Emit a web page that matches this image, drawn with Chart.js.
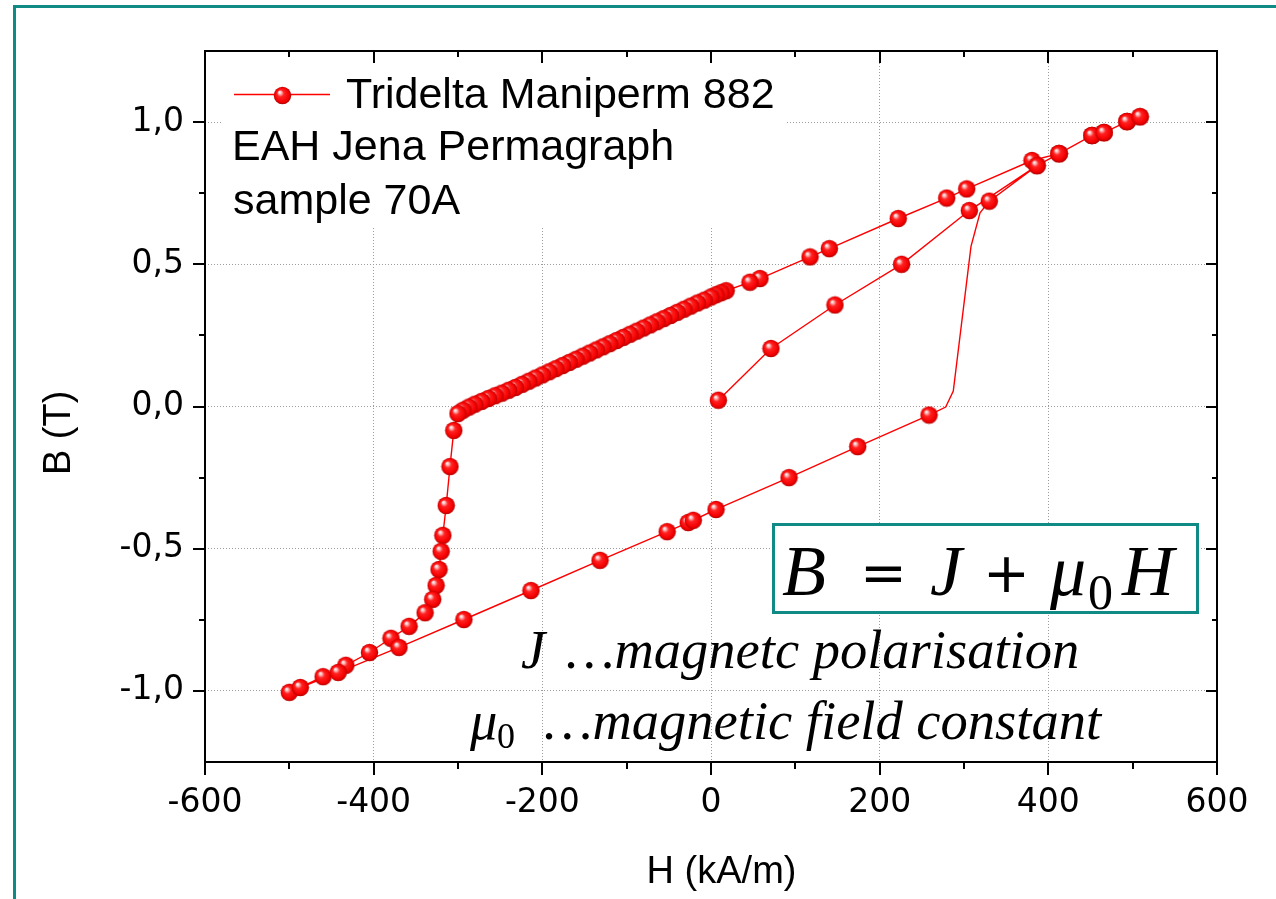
<!DOCTYPE html>
<html>
<head>
<meta charset="utf-8">
<title>Hysteresis loop – Tridelta Maniperm 882</title>
<script src="https://cdn.jsdelivr.net/npm/chart.js@4.4.1/dist/chart.umd.min.js"></script>
<style>
  html, body { margin: 0; padding: 0; background: #ffffff; }
  canvas { display: block; }
</style>
</head>
<body>
<canvas id="loop" width="1276" height="899"></canvas>
<script>
// ---- Measured B(H) loop, sample 70A (H in kA/m, B in T) ----

// initial magnetisation curve, from the demagnetised state up to the maximum field
const virginH = [8.7, 71.1, 147.0, 226.0, 306.3, 386.6, 412.7, 451.8, 466.0, 493.3, 508.7];
const virginB = [0.022, 0.204, 0.357, 0.500, 0.689, 0.847, 0.889, 0.953, 0.963, 1.002, 1.019];

// descending branch, from +Hmax down to -Hmax
const descH = [493.3, 466.0, 451.8, 412.7, 380.6, 303.2, 279.5, 222.0, 140.3, 117.4, 58.1, 46.2,
  18, 12, 6, 0, -8, -16, -24, -32, -40, -48, -56, -64, -72, -80, -88, -96, -104, -112, -120,
  -128, -136, -144, -152, -160, -168, -176, -184, -192, -200, -208, -216, -224, -232, -240,
  -248, -256, -264, -272, -280, -287, -294, -300,
  -305, -309.5, -314, -318, -320, -322.5, -326, -330, -339, -358, -379.5, -405, -433, -460, -500];
const descB = [1.002, 0.963, 0.953, 0.889, 0.865, 0.765, 0.733, 0.661, 0.555, 0.526, 0.450, 0.437,
  0.407, 0.400, 0.393, 0.385, 0.374, 0.364, 0.353, 0.342, 0.331, 0.320, 0.309, 0.298, 0.287, 0.276,
  0.265, 0.254, 0.243, 0.232, 0.221, 0.210, 0.199, 0.188, 0.177, 0.166, 0.155, 0.144, 0.133, 0.122,
  0.111, 0.100, 0.089, 0.078, 0.067, 0.057, 0.047, 0.038, 0.028, 0.018, 0.008, -0.002, -0.013, -0.025,
  -0.084, -0.211, -0.348, -0.453, -0.509, -0.573, -0.629, -0.678, -0.725, -0.773, -0.815, -0.865,
  -0.910, -0.950, -1.005];

// ascending branch, from -Hmax up to the start of the switching step
const ascH = [-487, -442, -370, -293, -213.5, -131.6, -52, -27, -21, 6, 92.5, 174, 258.5];
const ascB = [-0.988, -0.935, -0.847, -0.749, -0.647, -0.541, -0.440, -0.408, -0.400, -0.362, -0.250, -0.141, -0.030];

// switching step of the ascending branch (recorded without symbols)
const switchH = [278.3, 287.3, 308.3, 319.0];
const switchB = [-0.002, 0.054, 0.563, 0.681];

// ascending branch after switching, back up to +Hmax
const returnH = [330.0, 386.6, 412.7, 451.8, 466.0, 493.3, 508.7];
const returnB = [0.722, 0.847, 0.889, 0.953, 0.963, 1.002, 1.019];

// axis ticks
const xTickValues = [-600, -400, -200, 0, 200, 400, 600];
const xTickLabels = ['-600', '-400', '-200', '0', '200', '400', '600'];
const yTickValues = [-1.0, -0.5, 0.0, 0.5, 1.0];
const yTickLabels = ['-1,0', '-0,5', '0,0', '0,5', '1,0'];

const seriesName = 'Tridelta Maniperm 882';
const noteLines = ['EAH Jena Permagraph', 'sample 70A'];

// ---- build the trace in measurement order ----
function pts(hs, bs, sym) {
  return hs.map((h, i) => ({ x: h, y: bs[i], sym: sym }));
}
const trace = [].concat(
  pts(virginH, virginB, true),
  pts(descH, descB, true),
  pts(ascH, ascB, true),
  pts(switchH, switchB, false),
  pts(returnH, returnB, true)
);

// shaded red sphere used as the data symbol
function makeBall(r) {
  const s = Math.round(2 * r) + 2;
  const c = document.createElement('canvas');
  c.width = s; c.height = s;
  const g = c.getContext('2d');
  const cx = s / 2, cy = s / 2;
  const grad = g.createRadialGradient(cx - 0.36 * r, cy - 0.4 * r, 0, cx, cy, r);
  grad.addColorStop(0, '#ffffff');
  grad.addColorStop(0.15, '#ffcaca');
  grad.addColorStop(0.4, '#ff2222');
  grad.addColorStop(0.82, '#f50000');
  grad.addColorStop(1, '#b20000');
  g.fillStyle = grad;
  g.beginPath();
  g.arc(cx, cy, r, 0, Math.PI * 2);
  g.fill();
  return c;
}
const ball = makeBall(8.7);

const TEAL = '#0f8a85';

// frame, minor/major tick marks, legend block and the formula annotation
const decor = {
  id: 'decor',
  beforeDraw(chart) {
    const ctx = chart.ctx;
    ctx.save();
    ctx.fillStyle = '#ffffff';
    ctx.fillRect(0, 0, chart.width, chart.height);
    ctx.strokeStyle = TEAL;
    ctx.lineWidth = 3;
    ctx.strokeRect(14.5, 6.5, chart.width + 20, chart.height + 20);
    ctx.restore();
  },
  beforeDatasetsDraw(chart) {
    const ctx = chart.ctx;
    const a = chart.chartArea;
    ctx.save();
    ctx.fillStyle = '#ffffff';
    ctx.fillRect(a.left + 17, a.top + 1, 563, 176);
    ctx.restore();
  },
  afterDatasetsDraw(chart) {
    const ctx = chart.ctx;
    ctx.save();
    // formula box
    ctx.fillStyle = '#ffffff';
    ctx.fillRect(773, 524, 425, 89);
    ctx.strokeStyle = TEAL;
    ctx.lineWidth = 3;
    ctx.strokeRect(773.5, 524.5, 424, 88);
    ctx.fillStyle = '#000000';
    ctx.textBaseline = 'alphabetic';
    ctx.textAlign = 'left';
    const it72 = "italic 72px 'Liberation Serif'";
    const op = "56px 'DejaVu Sans'";
    ctx.font = it72; ctx.fillText('B', 782, 595);
    ctx.font = op; ctx.fillText('=', 860, 592);
    ctx.font = it72; ctx.fillText('J', 930, 595);
    ctx.font = op; ctx.fillText('+', 983, 592);
    ctx.font = it72; ctx.fillText('\u03bc', 1050, 595);
    ctx.font = "50px 'Liberation Serif'"; ctx.fillText('0', 1088, 609);
    ctx.font = it72; ctx.fillText('H', 1122, 595);

    // symbol explanations
    const it = "italic 54.5px 'Liberation Serif'";
    ctx.font = it; ctx.fillText('J', 521, 668);
    ctx.fillText('\u2026magnetc polarisation', 566, 668);
    ctx.fillText('\u03bc', 470, 739);
    ctx.font = "36px 'Liberation Serif'"; ctx.fillText('0', 497, 748);
    ctx.font = it; ctx.fillText('\u2026magnetic field constant', 544, 739);
    ctx.restore();
  },
  afterDraw(chart) {
    const ctx = chart.ctx;
    const a = chart.chartArea;
    const xs = chart.scales.x, ys = chart.scales.y;
    ctx.save();
    ctx.strokeStyle = '#000000';
    ctx.lineWidth = 2;
    ctx.beginPath();
    // x ticks every 100, majors every 200
    for (let v = -600; v <= 600; v += 100) {
      const px = Math.round(xs.getPixelForValue(v));
      const major = (v % 200 === 0);
      const out = major ? 13 : 7;
      const inn = major ? 12 : 6;
      ctx.moveTo(px, a.bottom); ctx.lineTo(px, a.bottom + out);
      ctx.moveTo(px, a.top); ctx.lineTo(px, a.top + inn);
    }
    // y ticks every 0.25, majors every 0.5
    for (let k = -4; k <= 4; k++) {
      const v = k * 0.25;
      const py = Math.round(ys.getPixelForValue(v));
      const major = (k % 2 === 0);
      const out = major ? 12 : 6;
      const inn = major ? 11 : 5;
      ctx.moveTo(a.left - out, py); ctx.lineTo(a.left, py);
      ctx.moveTo(a.right, py); ctx.lineTo(a.right - inn, py);
    }
    ctx.stroke();
    ctx.strokeRect(a.left, a.top, a.right - a.left, a.bottom - a.top);

    // legend: line + symbol + series name, then note lines
    ctx.strokeStyle = '#ff0000';
    ctx.lineWidth = 1.3;
    ctx.beginPath();
    ctx.moveTo(234, 94.5); ctx.lineTo(330, 94.5);
    ctx.stroke();
    ctx.drawImage(ball, Math.round(282 - ball.width / 2), Math.round(95 - ball.height / 2));
    ctx.fillStyle = '#000000';
    ctx.font = "43px 'Liberation Sans'";
    ctx.textBaseline = 'alphabetic';
    ctx.textAlign = 'left';
    ctx.fillText(seriesName, 346, 108);
    ctx.fillText(noteLines[0], 232, 160);
    ctx.fillText(noteLines[1], 233, 214);
    ctx.restore();
  }
};

new Chart(document.getElementById('loop').getContext('2d'), {
  type: 'scatter',
  data: {
    datasets: [{
      label: seriesName,
      data: trace,
      showLine: true,
      borderColor: '#ff0000',
      borderWidth: 1.4,
      tension: 0,
      pointStyle: ball,
      pointRadius: c => (c.raw && c.raw.sym) ? 8.7 : 0,
      pointHoverRadius: c => (c.raw && c.raw.sym) ? 8.7 : 0,
      clip: false
    }]
  },
  options: {
    responsive: false,
    animation: false,
    devicePixelRatio: 1,
    layout: { padding: { left: 0, top: 51, right: 59, bottom: 0 } },
    plugins: { legend: { display: false }, tooltip: { enabled: false } },
    events: [],
    scales: {
      x: {
        type: 'linear', position: 'bottom', min: -600, max: 600,
        afterFit: s => { s.height = 137; },
        afterBuildTicks: s => { s.ticks = xTickValues.map(v => ({ value: v })); },
        ticks: {
          callback: (v, i) => xTickLabels[i],
          font: { family: "'DejaVu Sans'", size: 33 },
          color: '#000000', padding: 22, maxRotation: 0, autoSkip: false
        },
        grid: { drawTicks: false, color: '#9c9c9c', lineWidth: 1 },
        border: { display: false, dash: [1, 2] },
        title: {
          display: true, text: '\u00a0\u00a0H (kA/m)', color: '#000000',
          font: { family: "'Liberation Sans'", size: 38 },
          padding: { top: 0, bottom: 4 }
        }
      },
      y: {
        type: 'linear', position: 'left', min: -1.25, max: 1.25,
        afterFit: s => { s.width = 205; },
        afterBuildTicks: s => { s.ticks = yTickValues.map(v => ({ value: v })); },
        ticks: {
          callback: (v, i) => yTickLabels[i],
          font: { family: "'DejaVu Sans'", size: 33 },
          color: '#000000', padding: 21, autoSkip: false
        },
        grid: { drawTicks: false, color: '#9c9c9c', lineWidth: 1 },
        border: { display: false, dash: [1, 2] },
        title: {
          display: true, text: 'B (T)\u00a0\u00a0\u00a0\u00a0\u00a0', color: '#000000',
          font: { family: "'Liberation Sans'", size: 38 },
          padding: { top: 37, bottom: 0 }
        }
      }
    }
  },
  plugins: [decor]
});
</script>
</body>
</html>
